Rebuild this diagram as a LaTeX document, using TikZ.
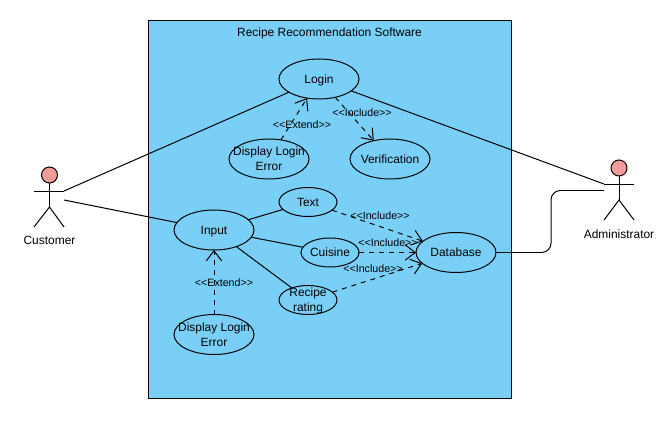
\documentclass[tikz,border=0pt]{standalone}
\usepackage{fontspec}
\setmainfont{Liberation Sans}
\usetikzlibrary{arrows.meta, positioning, shapes.geometric}
\definecolor{sysblue}{HTML}{7ACFF7}
\definecolor{headred}{HTML}{F19C99}

\begin{document}
\begin{tikzpicture}[x=0.03cm,y=-0.03cm,line width=0.85pt]

	\tikzset{
		usecase/.style={
				ellipse, draw=black, align=center, inner sep=-0.6cm, outer sep=0pt, minimum width=2.4cm, minimum height=1.2cm,
				text depth=0pt, font=\fontsize{10.2}{12.75}\selectfont
			},
		smallcase/.style={
				usecase, minimum width=1.74cm, minimum height=0.87cm
			},
		tag/.style={
				inner sep=0pt, font=\fontsize{9.1}{10}\selectfont
			},
		actorname/.style={
				inner sep=0pt, font=\fontsize{10.2}{12.75}\selectfont
			},
		head/.style={
				circle, draw=black, fill=headred, inner sep=0pt, minimum size=0.48cm
			},
		dep/.style={
				dashed, dash pattern=on 4.25pt off 4.25pt, -{Straight Barb[length=3mm,width=4.6mm]}
			},
	}
	\useasboundingbox (0,0) rectangle (668,427);
	\node[draw=black, fill=sysblue, minimum width=10.86cm, minimum height=11.31cm, inner sep=0pt, outer sep=0pt](sys) at (330,209.5){};
	\node[actorname](title) at (329.5,33){Recipe Recommendation Software};

	\node[usecase](login) at (319,79){Login};
	\node[usecase](loginerr) at (269,159){Display Login\\Error};
	\node[usecase, right=1.23cm of loginerr](verify){Verification};
	\node[usecase](input) at (214,230){Input};
	\node[usecase, below=1.935cm of input](inputerr){Display Login\\Error};
	\node[smallcase](text) at (308,202){Text};
	\node[smallcase](cuisine) at (330,252.5){Cuisine};
	\node[smallcase](rating) at (308,300){Recipe\\rating};
	\node[usecase, right=1.71cm of cuisine](db){Database};

	% customer
	\node[head](custhead) at (49.5,175){};
	\coordinate (custhip) at (49.5,207);
	\coordinate (custleft) at (34,191);
	\coordinate (custright) at (64,191);
	\coordinate (custfootl) at (34,227);
	\coordinate (custfootr) at (64,227);
	\coordinate (custin) at (64,200);
	\node[actorname](custname) at (49.5,240){Customer};
	\draw (custhead)--(custhip);
	\draw (custleft)--(custright);
	\draw (custfootl)--(custhip)--(custfootr);

	% administrator
	\node[head](adminhead) at (619,168){};
	\coordinate (adminhip) at (619,200);
	\coordinate (adminleft) at (604,184);
	\coordinate (adminright) at (634,184);
	\coordinate (adminfootl) at (604,220);
	\coordinate (adminfootr) at (634,220);
	\coordinate (adminin) at (604,190.5);
	\node[actorname](adminname) at (619,234){Administrator};
	\draw (adminhead)--(adminhip);
	\draw (adminleft)--(adminright);
	\draw (adminfootl)--(adminhip)--(adminfootr);

	\draw (custright)--(login);
	\draw (custin)--(input);
	\draw (login)--(adminleft);
	\draw (input)--(text);
	\draw (input)--(cuisine);
	\draw (input)--(rating);
	\coordinate (elbowlow) at (551,252.5);
	\coordinate (elbowhigh) at (551,190.5);
	\draw[rounded corners=8pt] (db)--(elbowlow)--(elbowhigh)--(adminin);

	\draw[dep] (loginerr)--(login);
	\draw[dep] (login)--(verify);
	\draw[dep] (inputerr)--(input);
	\draw[dep] (text)--(db);
	\draw[dep] (cuisine)--(db);
	\draw[dep] (rating)--(db);

	\node[tag](extendone) at (302,125){<{}<Extend>{}>};
	\node[tag](includeone) at (362,113){<{}<Include>{}>};
	\node[tag](includetwo) at (380,216){<{}<Include>{}>};
	\node[tag](includethree) at (388,243){<{}<Include>{}>};
	\node[tag](includefour) at (373,269){<{}<Include>{}>};
	\node[tag](extendtwo) at (224,283){<{}<Extend>{}>};

\end{tikzpicture}
\end{document}
